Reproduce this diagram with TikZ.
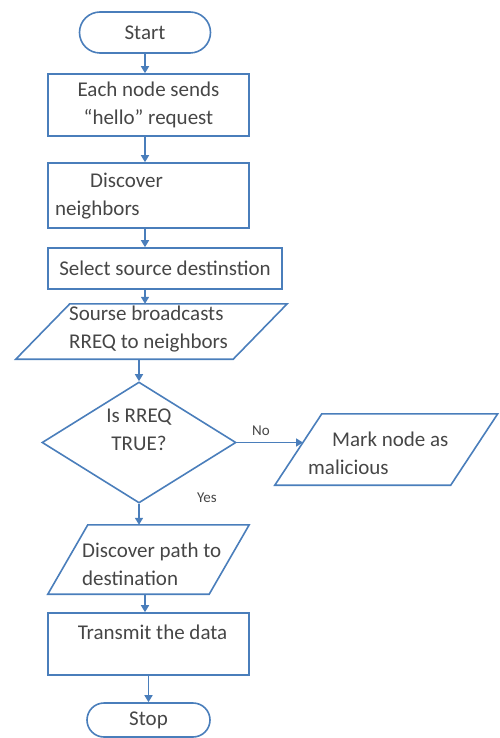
\documentclass[tikz,border=0pt]{standalone}
\usepackage{fontspec}
\setmainfont{Carlito}
\usetikzlibrary{shapes.geometric,shapes.misc,arrows.meta}
\definecolor{flow}{RGB}{74,126,187}
\definecolor{txt}{RGB}{70,70,70}
\begin{document}
\begin{tikzpicture}[x=1pt,y=-1pt,
  every node/.style={text=txt,font=\fontsize{21}{28}\selectfont},
  shapeline/.style={draw=flow,line width=1.6pt},
  boxnode/.style={shapeline,rectangle,inner sep=0pt},
  term/.style={shapeline,rounded rectangle,inner sep=0pt},
  frame/.style={inner sep=0pt},
  arr/.style={draw=flow,line width=1.6pt,-{Triangle[length=7pt,width=8pt]}},
  lbl/.style={font=\fontsize{15}{17}\selectfont},
  txtnode/.style={inner sep=0pt,align=left,anchor=west}]
\useasboundingbox (0,0) rectangle (499,738);

% terminators and boxes
\node[term,minimum width=131pt,minimum height=41pt] (start) at (145,32.5) {Start};
\node[boxnode,minimum width=201pt,minimum height=62pt,align=center] (b1) at (148.5,105) {Each node sends\\“hello” request};
\node[boxnode,minimum width=201pt,minimum height=65pt] (b2) at (148.5,195.5) {};
\node[txtnode] (b2t) at (55,196.5) {\hspace*{35pt}Discover\\neighbors};
\node[boxnode,minimum width=234pt,minimum height=41pt] (b3) at (165,268.5) {Select source destinstion};

% parallelogram 1
\node[frame,minimum width=271pt,minimum height=55pt] (p1) at (151.5,331.5) {};
\draw[shapeline] ([xshift=54pt]p1.north west) -- (p1.north east) -- ([xshift=-54pt]p1.south east) -- (p1.south west) -- cycle;
\node[txtnode] (p1t) at (69,329) {Sourse broadcasts\\RREQ to neighbors};

% decision
\node[shapeline,diamond,minimum width=194pt,minimum height=121pt,inner sep=0pt] (d) at (139,442.5) {};
\node[align=center,inner sep=0pt] (dt) at (139,430) {Is RREQ\\TRUE?};

% parallelogram 2
\node[frame,minimum width=222.5pt,minimum height=71pt] (p2) at (386.25,449.5) {};
\draw[shapeline] ([xshift=47pt]p2.north west) -- (p2.north east) -- ([xshift=-47pt]p2.south east) -- (p2.south west) -- cycle;
\node[txtnode] (p2t) at (308,453.5) {\hspace*{24pt}Mark node as\\malicious};
\coordinate (p2in) at (303,442.5);

% parallelogram 3
\node[frame,minimum width=201pt,minimum height=69pt] (p3) at (148.5,559.5) {};
\draw[shapeline] ([xshift=40pt]p3.north west) -- (p3.north east) -- ([xshift=-40pt]p3.south east) -- (p3.south west) -- cycle;
\node[txtnode] (p3t) at (82,564) {Discover path to\\destination};

\node[boxnode,minimum width=201pt,minimum height=62pt] (b4) at (148.5,644) {};
\node[inner sep=0pt] (b4t) at (152.5,632) {Transmit the data};
\node[term,minimum width=123pt,minimum height=34pt] (stop) at (148.5,720) {Stop};

% labels
\node[lbl] (no) at (261,431) {No};
\node[lbl] (yes) at (207,498) {Yes};

% connectors
\draw[arr] (start.south) -- (start.south |- b1.north);
\draw[arr] (b1.south -| start.south) -- (b2.north -| start.south);
\draw[arr] (b2.south -| start.south) -- (b3.north -| start.south);
\draw[arr] (b3.south -| start.south) -- (p1.north -| start.south);
\draw[arr] (p1.south -| d.north) -- (d.north);
\draw[arr] (d.east) -- (p2in);
\draw[arr] (d.south) -- (d.south |- p3.north);
\draw[arr] (p3.south -| start.south) -- (b4.north -| start.south);
\draw[arr] (b4.south -| stop.north) -- (stop.north);
\end{tikzpicture}
\end{document}
